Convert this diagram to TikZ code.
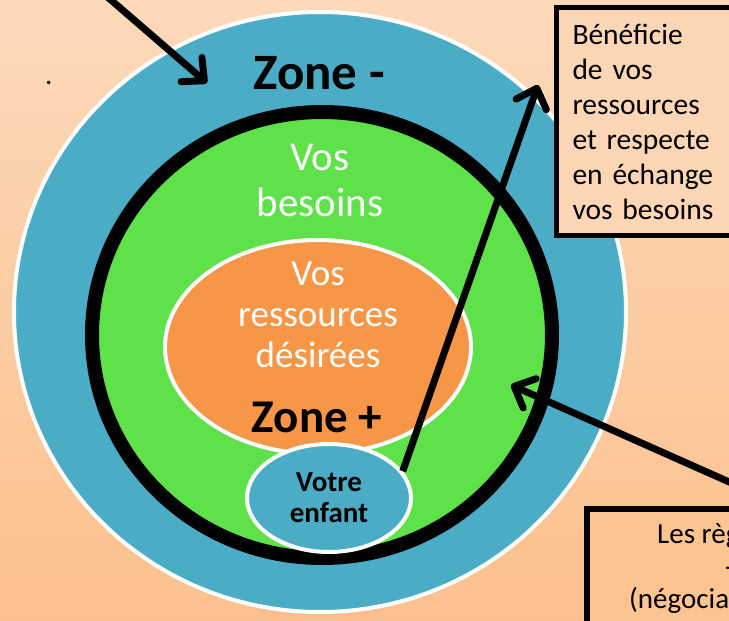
\documentclass[tikz,border=0pt]{standalone}
\usepackage{fontspec}
\setmainfont{Carlito}
\usetikzlibrary{arrows.meta,shapes.geometric}
\definecolor{zoneblue}{HTML}{4BACC6}
\definecolor{needgreen}{HTML}{5EE149}
\definecolor{wishorange}{HTML}{F79646}
\definecolor{peachtop}{HTML}{FDD9BA}
\definecolor{peachlow}{HTML}{FBC08D}
\definecolor{memofill}{HTML}{FDD6B5}
\definecolor{rulesfill}{HTML}{FCC491}
\tikzset{
  zone/.style={ellipse, inner sep=0pt, draw=white, line width=4pt},
  pointer/.style={line width=7pt, -{Straight Barb[length=17pt,width=32pt,round]}},
  memo/.style={draw=black, line width=5pt, inner sep=0pt},
  memotext/.style={font=\fontsize{29}{35}\selectfont, inner sep=0pt, anchor=base west},
}

\begin{document}
\begin{tikzpicture}[x=1pt,y=-1pt]
  \useasboundingbox (0,0) rectangle (729,621);
  \clip (0,0) rectangle (729,621);
  \fill[top color=peachtop, bottom color=peachlow] (0,0) rectangle (729,621);

  \node[zone, fill=zoneblue, minimum width=612pt, minimum height=600pt] (outer) at (320,312) {};
  \node[zone, fill=needgreen, draw=black, line width=14pt, minimum width=460pt, minimum height=446pt] (needs) at (322,335) {};
  \node[zone, fill=wishorange, minimum width=306pt, minimum height=214pt] (wish) at (318,347) {};
  \node[zone, fill=zoneblue, minimum width=164pt, minimum height=108pt, align=center,
        font=\fontsize{29}{31}\selectfont\bfseries] (enfant) at (329,498) {Votre\\enfant};

  \node[font=\fontsize{51}{55}\selectfont\bfseries, anchor=base] (zoneminus) at (319,89) {Zone -};
  \node[font=\fontsize{47}{51}\selectfont\bfseries, anchor=base] (zoneplus) at (317,432) {Zone +};
  \node[font=\fontsize{41}{46}\selectfont, text=white, align=center] (besoins) at (320,180) {Vos\\besoins};
  \node[font=\fontsize{37}{41}\selectfont, text=white, align=center] (ressources) at (318,315) {Vos\\ressources\\désirées};
  \node[memotext] (dot) at (45,84) {.};

  \node[memo, fill=memofill, anchor=north west, minimum width=230pt, minimum height=228pt,
        text width=198pt, inner xsep=16pt, align=left, font=\fontsize{29.5}{35}\selectfont] (memo) at (554,5)
        {Bénéficie\\de vos\\ressources\\et respecte\\en échange\\vos besoins};
  \node[memo, line width=6pt, fill=rulesfill, anchor=north west, minimum width=200pt, minimum height=160pt] (rules) at (584,506) {};
  \node[memotext] (rulesA) at (657,543) {Les règles};
  \node[memotext] (rulesB) at (725,576) {-};
  \node[memotext] (rulesC) at (629,608) {(négociables)};

  \coordinate (fromtop) at (104,-6);
  \coordinate (tipzone) at (207,83);
  \coordinate (tipmemo) at (538,85);
  \coordinate (fromrules) at (745,489);
  \coordinate (tipneeds) at (511,385);
  \draw[pointer] (fromtop) -- (tipzone);
  \draw[pointer] (enfant.20) -- (tipmemo);
  \draw[pointer] (fromrules) -- (tipneeds);
\end{tikzpicture}
\end{document}
